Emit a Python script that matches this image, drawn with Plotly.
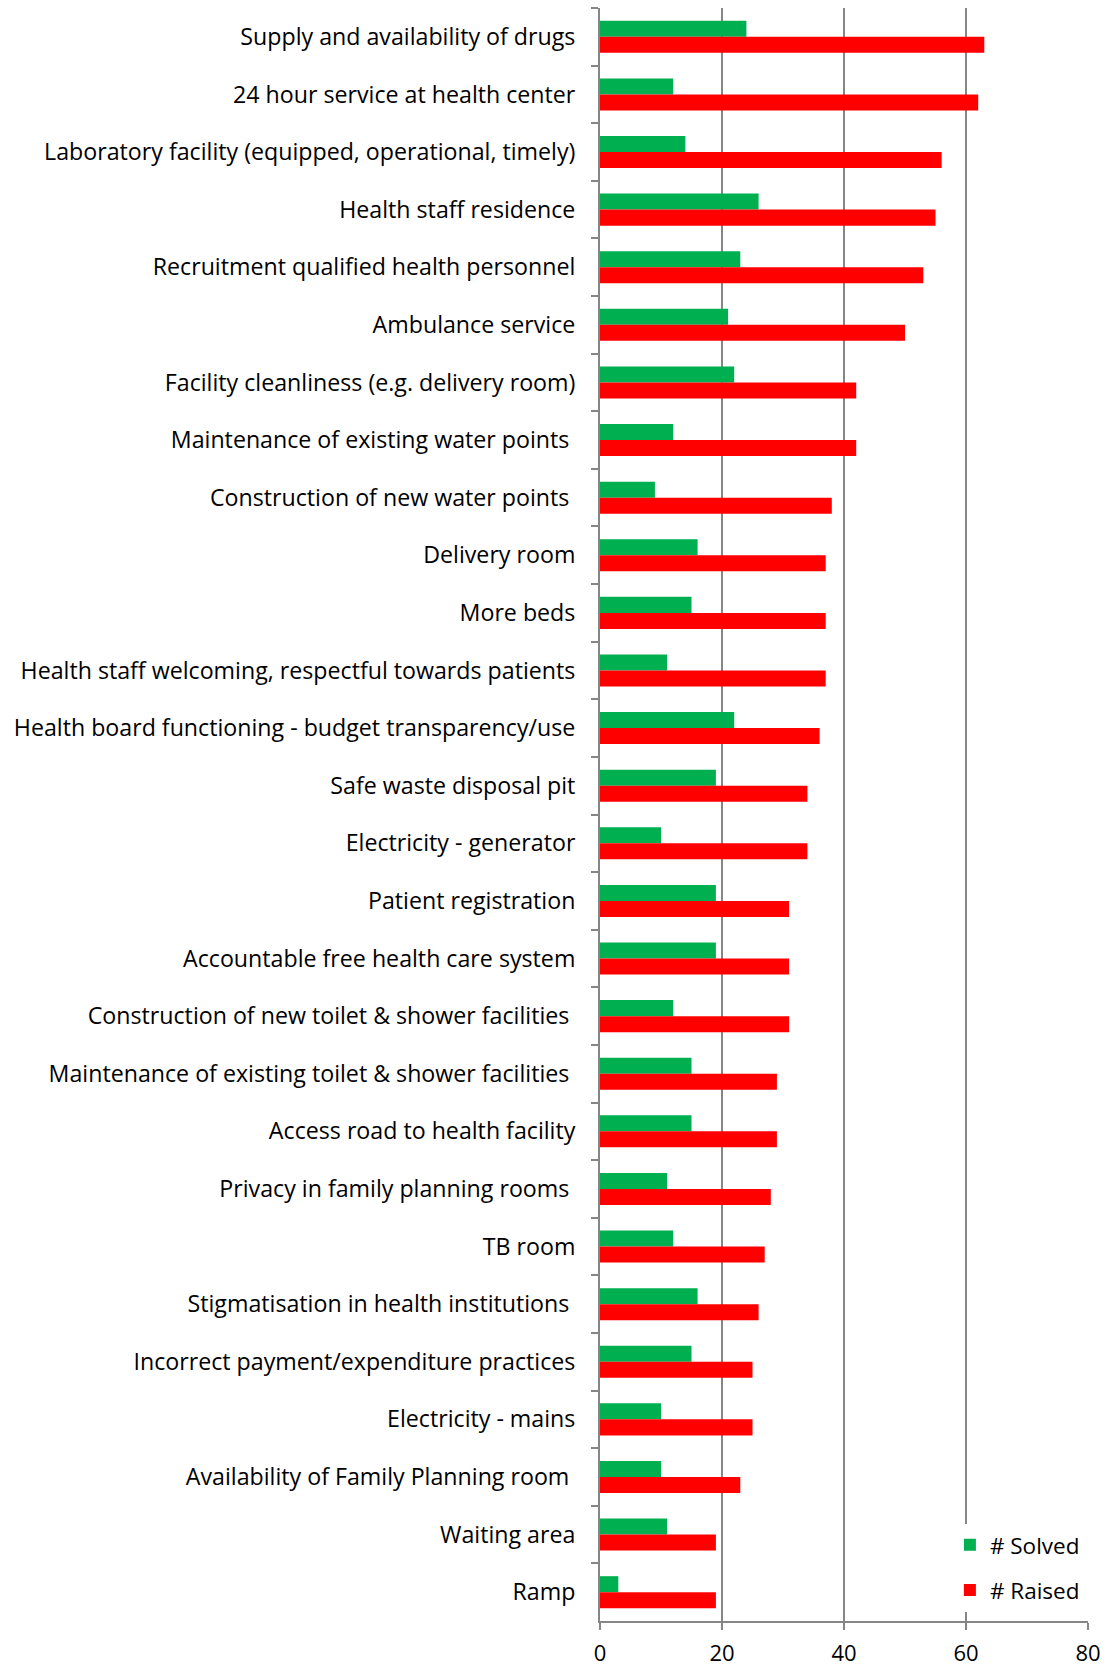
import plotly.graph_objects as go

# Issues raised at health facilities and how many of them were solved
issues = [
    "Supply and availability of drugs",
    "24 hour service at health center",
    "Laboratory facility (equipped, operational, timely)",
    "Health staff residence",
    "Recruitment qualified health personnel",
    "Ambulance service",
    "Facility cleanliness (e.g. delivery room)",
    "Maintenance of existing water points\u00a0",
    "Construction of new water points\u00a0",
    "Delivery room",
    "More beds",
    "Health staff welcoming, respectful towards patients",
    "Health board functioning - budget transparency/use",
    "Safe waste disposal pit",
    "Electricity - generator",
    "Patient registration",
    "Accountable free health care system",
    "Construction of new toilet & shower facilities\u00a0",
    "Maintenance of existing toilet & shower facilities\u00a0",
    "Access road to health facility",
    "Privacy in family planning rooms\u00a0",
    "TB room",
    "Stigmatisation in health institutions\u00a0",
    "Incorrect payment/expenditure practices",
    "Electricity - mains",
    "Availability of Family Planning room\u00a0",
    "Waiting area",
    "Ramp",
]

solved = [24, 12, 14, 26, 23, 21, 22, 12, 9, 16, 15, 11, 22, 19, 10, 19, 19,
          12, 15, 15, 11, 12, 16, 15, 10, 10, 11, 3]
raised = [63, 62, 56, 55, 53, 50, 42, 42, 38, 37, 37, 37, 36, 34, 34, 31, 31,
          31, 29, 29, 28, 27, 26, 25, 25, 23, 19, 19]

x_ticks = [0, 20, 40, 60, 80]

GREEN = "#00B050"
RED = "#FF0000"
GRID = "#868686"
FONT = "'Open Sans', Lato, sans-serif"

fig = go.Figure()
fig.add_trace(go.Bar(
    y=issues, x=solved, name="# Solved", orientation="h",
    marker=dict(color=GREEN, line=dict(width=0)), legendgroup="s",
))
fig.add_trace(go.Bar(
    y=issues, x=raised, name="# Raised", orientation="h",
    marker=dict(color=RED, line=dict(width=0)), legendgroup="r",
))

fig.update_layout(
    width=1109, height=1668,
    margin=dict(l=600, r=21, t=8, b=47),
    paper_bgcolor="white", plot_bgcolor="white",
    barmode="group", bargap=0.444, bargroupgap=0,
    font=dict(family=FONT, size=22, color="black"),
    showlegend=True,
    legend=dict(
        x=0.717, xanchor="left", y=0.0058, yanchor="bottom",
        bgcolor="white", borderwidth=0,
        font=dict(family=FONT, size=22.5, color="black"),
        tracegroupgap=13, traceorder="grouped",
    ),
)

fig.update_xaxes(
    range=[0, 80], tickvals=x_ticks, ticktext=[str(v) for v in x_ticks],
    showgrid=True, gridcolor=GRID, gridwidth=2,
    showline=True, linecolor=GRID, linewidth=2,
    ticks="outside", ticklen=7, tickwidth=2, tickcolor=GRID,
    ticklabelstandoff=5, automargin=False,
    zeroline=False, tickfont=dict(size=22, color="black"),
)
fig.update_yaxes(
    type="category", autorange="reversed",
    showgrid=False, showline=True, linecolor=GRID, linewidth=2,
    ticks="outside", tickson="boundaries", ticklen=7, tickwidth=2,
    tickcolor=GRID, ticklabelstandoff=18, automargin=False,
    tickfont=dict(size=23.2, color="black"),
)

fig.write_html("out.html")
